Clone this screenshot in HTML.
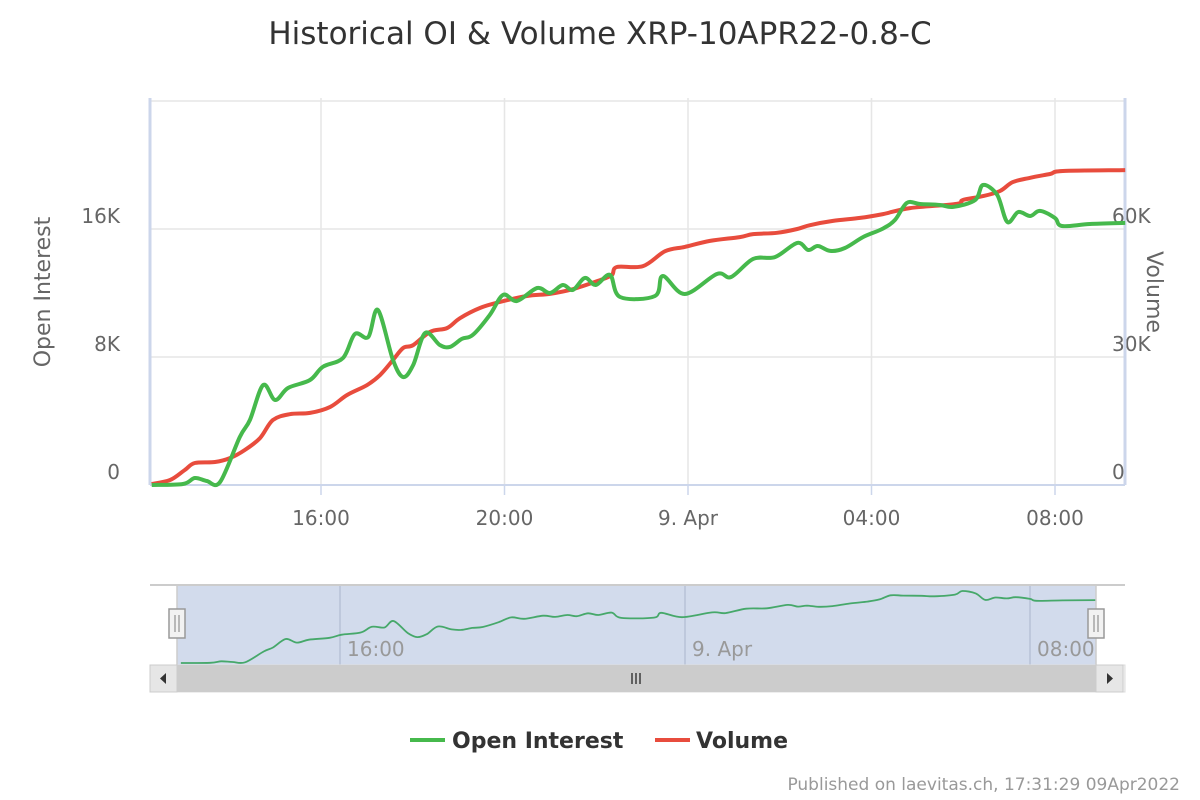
<!DOCTYPE html>
<html><head><meta charset="utf-8">
<style>
html,body{margin:0;padding:0;background:#fff;}
svg{display:block;font-family:"DejaVu Sans","Liberation Sans",sans-serif;}
</style></head>
<body>
<svg id="chart" width="1200" height="800" viewBox="0 0 1200 800">
  <rect x="0" y="0" width="1200" height="800" fill="#fff"/>
  <text x="600" y="44" text-anchor="middle" font-size="31" fill="#333">Historical OI &amp; Volume XRP-10APR22-0.8-C</text>
  <g id="grid"></g>
  <g id="axes"></g>
  <g id="series"></g>
  <g id="nav"></g>
  <text transform="translate(50,292) rotate(-90)" text-anchor="middle" font-size="22" fill="#666">Open Interest</text>
  <text transform="translate(1147,292) rotate(90)" text-anchor="middle" font-size="22" fill="#666">Volume</text>
  <g>
    <g>
      <line x1="410" y1="740" x2="445" y2="740" stroke="#46b94c" stroke-width="4"/>
      <text x="452" y="748" font-size="22" font-weight="bold" fill="#333">Open Interest</text>
    </g>
    <g>
      <line x1="655" y1="740" x2="690" y2="740" stroke="#e84c3d" stroke-width="4"/>
      <text x="696" y="748" font-size="22" font-weight="bold" fill="#333">Volume</text>
    </g>
  </g>
  <text x="1180" y="790" text-anchor="end" font-size="17" fill="#999">Published on laevitas.ch, 17:31:29 09Apr2022</text>
</svg>
<script>
// time in hours since 8 Apr 12:00; values in thousands
const oiTimes=[0.31,0.99,1.25,1.51,1.80,2.23,2.45,2.74,3.00,3.28,3.76,4.04,4.48,4.74,5.03,5.24,5.57,5.79,6.01,6.27,6.59,6.81,7.07,7.31,7.68,7.97,8.27,8.71,8.99,9.27,9.49,9.75,9.99,10.30,10.52,11.28,11.45,11.93,12.63,12.94,13.42,13.90,14.38,14.62,14.83,15.10,15.42,15.82,16.23,16.51,16.77,17.06,17.49,17.78,18.26,18.43,18.74,18.96,19.20,19.46,19.67,20.00,20.15,20.76,21.53];
const oiValues=[0,0.06,0.44,0.25,0.19,3.0,4.06,6.25,5.31,6.06,6.56,7.38,7.94,9.44,9.25,10.94,7.81,6.75,7.5,9.5,8.75,8.63,9.13,9.38,10.63,11.88,11.5,12.31,12.0,12.5,12.19,12.94,12.5,13.13,11.75,11.81,13.06,11.94,13.19,13.0,14.13,14.25,15.13,14.69,14.94,14.63,14.81,15.5,16.0,16.56,17.63,17.56,17.5,17.38,17.81,18.75,18.13,16.44,17.06,16.81,17.13,16.69,16.19,16.31,16.38];
const volTimes=[0.31,0.71,1.03,1.25,1.69,2.02,2.34,2.67,2.95,3.32,3.76,4.20,4.57,5.00,5.29,5.57,5.79,6.01,6.38,6.75,7.03,7.47,7.90,8.49,8.99,9.49,10.08,10.34,10.45,11.02,11.50,11.93,12.48,13.13,13.42,13.94,14.38,14.66,15.16,15.75,16.25,16.84,17.86,17.99,18.43,18.80,19.08,19.46,19.89,20.17,21.53];
const volValues=[0.23,1.17,3.52,5.16,5.39,6.33,8.2,11.0,15.2,16.6,16.9,18.3,21.1,23.4,25.8,29.3,32.1,32.8,35.9,36.8,39.1,41.5,42.9,44.3,44.8,45.9,48.0,49.2,51.1,51.3,54.8,55.8,57.2,58.1,58.8,59.1,60.0,60.9,61.9,62.6,63.5,64.9,65.9,66.8,67.7,68.9,71.0,72.0,72.9,73.6,73.8];
const xTickHours=[4,8,12,16,20];
const xTickLabels=["16:00","20:00","9. Apr","04:00","08:00"];
const leftTicks=[0,8,16,24];
const leftTickLabels=["0","8K","16K",""];
const rightTicks=[0,30,60];
const rightTickLabels=["0","30K","60K"];
const navTickHours=[4,12,20];
const navTickLabels=["16:00","9. Apr","08:00"];

const NS="http://www.w3.org/2000/svg";
const PL=150,PR=1125,PT=98,PB=485;
const xS=t=>321+(t-4)*45.875;
const yL=v=>PB-v*16;
const yR=v=>PB-v*256/60;
const nxS=t=>340+(t-4)*43.125;
const NT=591,NB=663;
function mk(tag,attrs,parent){const e=document.createElementNS(NS,tag);for(const k in attrs)e.setAttribute(k,attrs[k]);parent.appendChild(e);return e;}
function smooth(pts){let d=`M${pts[0][0]},${pts[0][1]}`;for(let i=0;i<pts.length-1;i++){const p0=pts[Math.max(0,i-1)],p1=pts[i],p2=pts[i+1],p3=pts[Math.min(pts.length-1,i+2)];const c1=[p1[0]+(p2[0]-p0[0])/6,p1[1]+(p2[1]-p0[1])/6],c2=[p2[0]-(p3[0]-p1[0])/6,p2[1]-(p3[1]-p1[1])/6];d+=` C${c1[0].toFixed(1)},${c1[1].toFixed(1)} ${c2[0].toFixed(1)},${c2[1].toFixed(1)} ${p2[0].toFixed(1)},${p2[1].toFixed(1)}`;}return d;}

const gridG=document.getElementById('grid'),axesG=document.getElementById('axes'),seriesG=document.getElementById('series'),navG=document.getElementById('nav');
leftTicks.forEach((v,i)=>{
  const g=mk('line',{x1:PL,x2:PR,y1:yL(v),y2:yL(v),stroke:'#e6e6e6','stroke-width':1.5},gridG);
  
  
  if(leftTickLabels[i]){const t=mk('text',{x:120,y:yL(v)-6,'text-anchor':'end','font-size':20,fill:'#666'},axesG);t.textContent=leftTickLabels[i];
  
  }
});
rightTicks.forEach((v,i)=>{
  const t=mk('text',{x:1112,y:yR(v)-6,'font-size':20,fill:'#666'},axesG);t.textContent=rightTickLabels[i];
  
  
});
xTickHours.forEach((h,i)=>{
  const x=xS(h);
  const g=mk('line',{x1:x,x2:x,y1:PT,y2:PB,stroke:'#e6e6e6','stroke-width':1.5},gridG);
  
  
  const tk=mk('line',{x1:x,x2:x,y1:PB,y2:PB+10,stroke:'#ccd6eb','stroke-width':1.5},axesG);
  
  
  const t=mk('text',{x:x,y:525,'text-anchor':'middle','font-size':20,fill:'#666'},axesG);t.textContent=xTickLabels[i];
  
  
});
const xl=mk('line',{x1:PL,x2:PR,y1:PB,y2:PB,stroke:'#ccd6eb','stroke-width':2},axesG);


const la=mk('line',{x1:PL,x2:PL,y1:PT,y2:PB,stroke:'#ccd6eb','stroke-width':3},axesG);


const ra=mk('line',{x1:PR,x2:PR,y1:PT,y2:PB,stroke:'#ccd6eb','stroke-width':3},axesG);



const oiPts=oiTimes.map((t,i)=>[xS(t),yL(oiValues[i])]);
const volPts=volTimes.map((t,i)=>[xS(t),yR(volValues[i])]);
const vl=mk('path',{d:smooth(volPts),fill:'none',stroke:'#e84c3d','stroke-width':4,'stroke-linejoin':'round'},seriesG);


const ol=mk('path',{d:smooth(oiPts),fill:'none',stroke:'#46b94c','stroke-width':4,'stroke-linejoin':'round'},seriesG);



// navigator
const selL=177,selR=1096;
const nbg=mk('rect',{x:selL,y:585,width:selR-selL,height:80,fill:'#d2dbec'},navG);


const navTopLine=mk('line',{x1:150,x2:1125,y1:585,y2:585,stroke:'#ccc','stroke-width':2},navG);


navTickHours.forEach((h,i)=>{
  const x=nxS(h);
  const g=mk('line',{x1:x,x2:x,y1:586,y2:665,stroke:'#b8c2d6','stroke-width':1.5},navG);
  
  
  const t=mk('text',{x:x+7,y:656,'font-size':20,fill:'#999'},navG);t.textContent=navTickLabels[i];
  
  
});
const maxOI=Math.max(...oiValues);
const nPts=oiTimes.map((t,i)=>[nxS(t),NB-oiValues[i]/maxOI*(NB-NT)]);
const nl=mk('path',{d:smooth(nPts),fill:'none',stroke:'#46a86a','stroke-width':1.8},navG);


[selL,selR].forEach((x,i)=>{
  const l=mk('line',{x1:x,x2:x,y1:586,y2:665,stroke:'#ccc','stroke-width':1.5},navG);
  
  
  const h=mk('g',{},navG);
  
  
  mk('rect',{x:x-8,y:609,width:16,height:29,fill:'#f2f2f2',stroke:'#999','stroke-width':1.5},h);
  mk('line',{x1:x-2,x2:x-2,y1:615,y2:632,stroke:'#999','stroke-width':1.3},h);
  mk('line',{x1:x+2,x2:x+2,y1:615,y2:632,stroke:'#999','stroke-width':1.3},h);
});
const sb=mk('g',{},navG);


mk('rect',{x:150,y:665,width:975,height:27,fill:'#f2f2f2',stroke:'#ddd'},sb);
mk('rect',{x:177,y:665,width:919,height:27,fill:'#cccccc'},sb);
[632,636,640].forEach(x=>mk('line',{x1:x,x2:x,y1:673,y2:684,stroke:'#333','stroke-width':1.4},sb));
const lb=mk('g',{},navG);


mk('rect',{x:150,y:665,width:27,height:27,fill:'#e6e6e6',stroke:'#ccc'},lb);
mk('path',{d:'M160,678.5 L166,673 L166,684 Z',fill:'#333'},lb);
const rb=mk('g',{},navG);


mk('rect',{x:1096,y:665,width:27,height:27,fill:'#e6e6e6',stroke:'#ccc'},rb);
mk('path',{d:'M1113,678.5 L1107,673 L1107,684 Z',fill:'#333'},rb);
</script>
</body></html>
